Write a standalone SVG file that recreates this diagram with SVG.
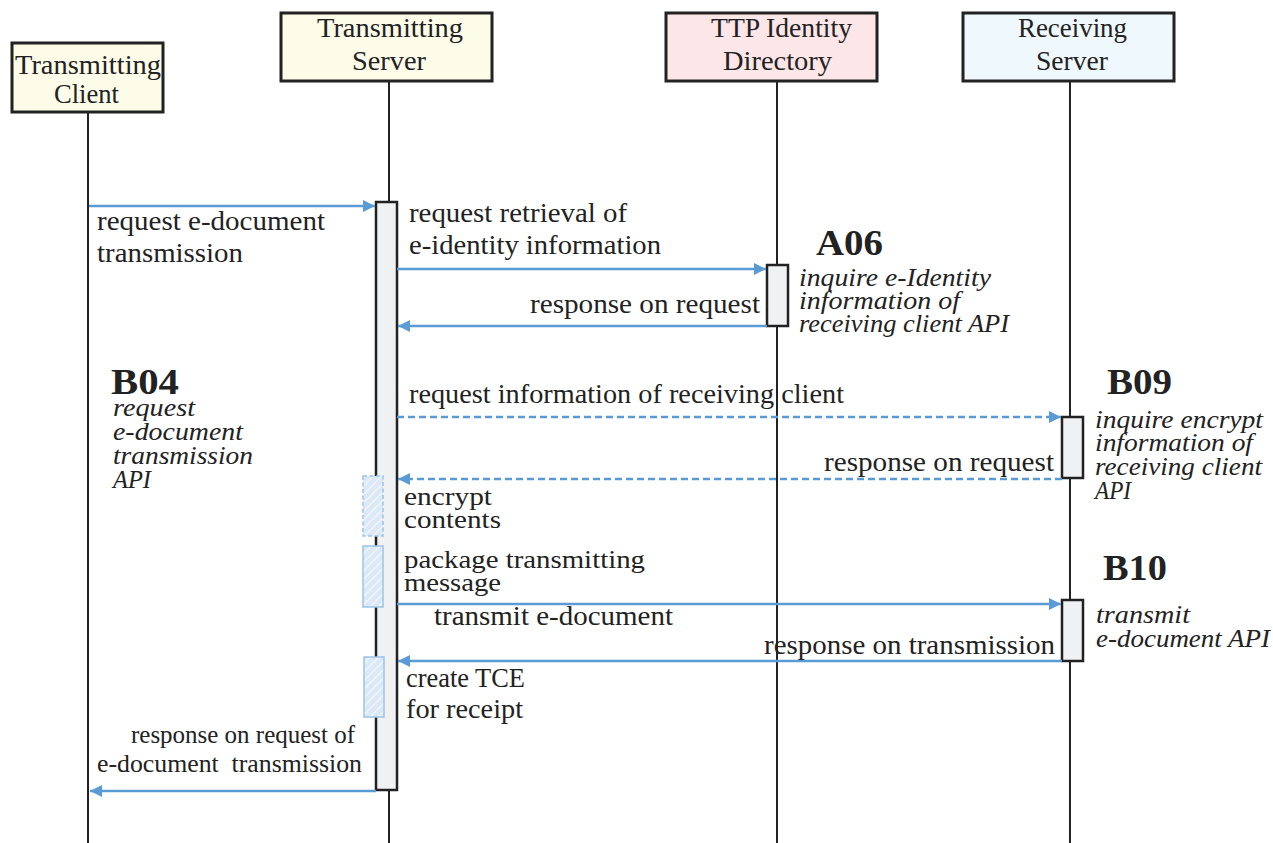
<svg xmlns="http://www.w3.org/2000/svg" width="1273" height="843" viewBox="0 0 1273 843">
<style>
.box{stroke:#222;stroke-width:3}
.life{stroke:#222;stroke-width:2;fill:none}
.act{fill:#f0f1f3;stroke:#222;stroke-width:2.5}
.hatch{fill:url(#hp);stroke:#9dc3e6;stroke-width:1.5}
.msg{stroke:#5b9bd5;stroke-width:2.5;fill:none;marker-end:url(#ah)}
.dash{stroke-dasharray:7 4}
text{font-family:"Liberation Serif","Times New Roman",serif;fill:#222;font-size:28px}
.it{font-style:italic;font-size:25px}
.tt{font-size:26px}
.bd{font-weight:bold;font-size:35px}
.sm{font-size:25px}
</style>
<defs>
<marker id="ah" markerUnits="userSpaceOnUse" markerWidth="14" markerHeight="14" refX="12" refY="6" orient="auto">
<path d="M0,0 L12,6 L0,12 Z" fill="#5b9bd5"/>
</marker>
<pattern id="hp" patternUnits="userSpaceOnUse" width="6" height="6" patternTransform="rotate(45)">
<rect width="6" height="6" fill="#dbe8f6"/>
<line x1="0" y1="0" x2="0" y2="6" stroke="#f4f8fd" stroke-width="2.5"/>
</pattern>
</defs>

<g id="lifelines">
<line class="life" x1="88" y1="112" x2="88" y2="843"/>
<line class="life" x1="389" y1="81" x2="389" y2="843"/>
<line class="life" x1="777" y1="81" x2="777" y2="843"/>
<line class="life" x1="1070" y1="81" x2="1070" y2="843"/>
</g>

<g id="client">
<rect class="box" x="12" y="43" width="151" height="69" fill="#fdfce9"/>
<text x="15" y="74" textLength="146" lengthAdjust="spacingAndGlyphs">Transmitting</text>
<text x="54" y="103" textLength="65" lengthAdjust="spacingAndGlyphs">Client</text>
</g>
<g id="tserver">
<rect class="box" x="281" y="13" width="211" height="68" fill="#fdfce9"/>
<text x="317" y="37" textLength="146" lengthAdjust="spacingAndGlyphs">Transmitting</text>
<text x="352" y="70" textLength="74" lengthAdjust="spacingAndGlyphs">Server</text>
</g>
<g id="ttp">
<rect class="box" x="666" y="13" width="211" height="68" fill="#fde6e8"/>
<text x="711" y="37" textLength="141" lengthAdjust="spacingAndGlyphs">TTP Identity</text>
<text x="723" y="70" textLength="109" lengthAdjust="spacingAndGlyphs">Directory</text>
</g>
<g id="rserver">
<rect class="box" x="963" y="13" width="211" height="68" fill="#eff8fc"/>
<text x="1018" y="37" textLength="109" lengthAdjust="spacingAndGlyphs">Receiving</text>
<text x="1036" y="70" textLength="72" lengthAdjust="spacingAndGlyphs">Server</text>
</g>

<g id="activations">
<rect class="act" x="376" y="202" width="21" height="588"/>
<rect class="act" x="767" y="265" width="21" height="61"/>
<rect class="act" x="1062" y="417" width="21" height="61"/>
<rect class="act" x="1062" y="600" width="21" height="61"/>
</g>

<g id="local-steps">
<rect class="hatch" x="363" y="476" width="20" height="60" stroke="#7fb0e0" stroke-dasharray="4 2.5"/>
<rect class="hatch" x="363" y="546" width="20" height="61"/>
<rect class="hatch" x="364" y="657" width="20" height="60"/>
</g>

<g id="connectors">
<line class="msg" x1="89" y1="206" x2="375" y2="206"/>
<line class="msg" x1="397" y1="269" x2="766" y2="269"/>
<line class="msg" x1="767" y1="326" x2="398" y2="326"/>
<line class="msg dash" x1="397" y1="417" x2="1061" y2="417"/>
<line class="msg dash" x1="1062" y1="479" x2="398" y2="479"/>
<line class="msg" x1="397" y1="604" x2="1061" y2="604"/>
<line class="msg" x1="1062" y1="661" x2="398" y2="661"/>
<line class="msg" x1="376" y1="791" x2="90" y2="791"/>
</g>

<g id="labels">
<text x="97" y="230" textLength="228" lengthAdjust="spacingAndGlyphs">request e-document</text>
<text x="97" y="262" textLength="146" lengthAdjust="spacingAndGlyphs">transmission</text>
<text x="409" y="222" textLength="218" lengthAdjust="spacingAndGlyphs">request retrieval of</text>
<text x="409" y="254" textLength="252" lengthAdjust="spacingAndGlyphs">e-identity information</text>
<text x="530" y="313" textLength="230" lengthAdjust="spacingAndGlyphs">response on request</text>
<text x="409" y="403" textLength="435" lengthAdjust="spacingAndGlyphs">request information of receiving client</text>
<text x="824" y="471" textLength="230" lengthAdjust="spacingAndGlyphs">response on request</text>
<text class="tt" x="404" y="505" textLength="88" lengthAdjust="spacingAndGlyphs">encrypt</text>
<text class="tt" x="404" y="528" textLength="97" lengthAdjust="spacingAndGlyphs">contents</text>
<text class="tt" x="404" y="568" textLength="241" lengthAdjust="spacingAndGlyphs">package transmitting</text>
<text class="tt" x="404" y="591" textLength="97" lengthAdjust="spacingAndGlyphs">message</text>
<text x="434" y="625" textLength="239" lengthAdjust="spacingAndGlyphs">transmit e-document</text>
<text x="764" y="654" textLength="291" lengthAdjust="spacingAndGlyphs">response on transmission</text>
<text x="406" y="687" textLength="119" lengthAdjust="spacingAndGlyphs">create TCE</text>
<text x="406" y="718" textLength="117" lengthAdjust="spacingAndGlyphs">for receipt</text>
<text class="sm" x="131" y="743" textLength="224" lengthAdjust="spacingAndGlyphs">response on request of</text>
<text class="sm" x="97" y="772" textLength="265" lengthAdjust="spacingAndGlyphs" xml:space="preserve">e-document  transmission</text>
</g>

<g id="api-A06">
<text class="bd" x="816" y="255" textLength="67" lengthAdjust="spacingAndGlyphs">A06</text>
<text class="it" x="799" y="286" textLength="192" lengthAdjust="spacingAndGlyphs">inquire e-Identity</text>
<text class="it" x="799" y="309" textLength="161" lengthAdjust="spacingAndGlyphs">information of</text>
<text class="it" x="799" y="332" textLength="210" lengthAdjust="spacingAndGlyphs">receiving client API</text>
</g>
<g id="api-B04">
<text class="bd" x="111" y="394" textLength="68" lengthAdjust="spacingAndGlyphs">B04</text>
<text class="it" x="113" y="416" textLength="82" lengthAdjust="spacingAndGlyphs">request</text>
<text class="it" x="113" y="440" textLength="130" lengthAdjust="spacingAndGlyphs">e-document</text>
<text class="it" x="113" y="464" textLength="140" lengthAdjust="spacingAndGlyphs">transmission</text>
<text class="it" x="113" y="488" textLength="38" lengthAdjust="spacingAndGlyphs">API</text>
</g>
<g id="api-B09">
<text class="bd" x="1107" y="394" textLength="65" lengthAdjust="spacingAndGlyphs">B09</text>
<text class="it" x="1095" y="428" textLength="168" lengthAdjust="spacingAndGlyphs">inquire encrypt</text>
<text class="it" x="1095" y="451" textLength="158" lengthAdjust="spacingAndGlyphs">information of</text>
<text class="it" x="1095" y="475" textLength="167" lengthAdjust="spacingAndGlyphs">receiving client</text>
<text class="it" x="1095" y="499" textLength="36" lengthAdjust="spacingAndGlyphs">API</text>
</g>
<g id="api-B10">
<text class="bd" x="1103" y="580" textLength="64" lengthAdjust="spacingAndGlyphs">B10</text>
<text class="it" x="1096" y="623" textLength="94" lengthAdjust="spacingAndGlyphs">transmit</text>
<text class="it" x="1096" y="647" textLength="174" lengthAdjust="spacingAndGlyphs">e-document API</text>
</g>
</svg>
